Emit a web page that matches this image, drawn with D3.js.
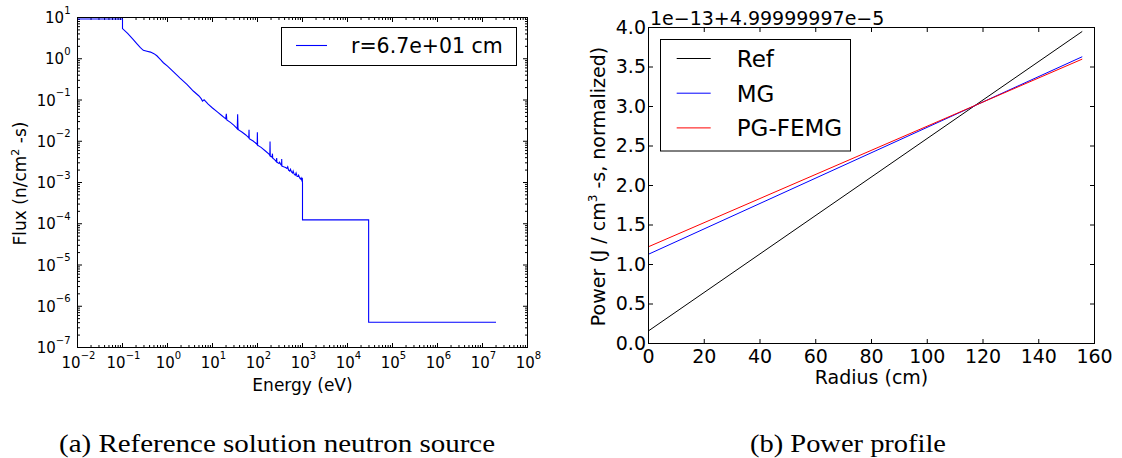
<!DOCTYPE html>
<html>
<head>
<meta charset="utf-8">
<script src="https://cdn.jsdelivr.net/npm/d3@7"></script>
<style>
  body { margin: 0; background: #fff; }
  svg { display: block; }
  text { font-family: "DejaVu Sans", sans-serif; fill: #000; }
  .cap { font-family: "Liberation Serif", "DejaVu Serif", serif; }
</style>
</head>
<body>
<svg id="fig" width="1122" height="458"></svg>
<script>
// ---- (a) neutron flux spectrum at r = 67 cm ----
const energy = [
  0.01, 0.1, 0.1, 0.13, 0.17, 0.21, 0.25, 0.29, 0.35, 0.42, 0.5, 0.58, 0.7, 0.81,
  1.0, 1.4, 1.9, 2.7, 3.74, 5.0, 5.6, 6.0, 6.5, 7.2, 8.0, 10, 13, 16, 19.6, 20.3, 20.8,
  25, 30, 34, 35.5, 36.2, 36.8, 37.5, 45, 55, 64, 64.8, 65.5, 80, 95, 98.5, 99.3, 100.5,
  120, 150, 180, 188, 190, 192, 200, 210, 215, 218, 240, 262, 267, 270, 300, 310, 330,
  343, 345, 348, 380, 420, 450, 470, 490, 520, 540, 570, 600, 620, 650, 690, 720, 760,
  800, 820, 860, 900, 930, 960, 990, 1000, 1000, 29500, 29500, 2e7
];
const flux = [
  9.2, 9.2, 5.4, 4.1, 3.0, 2.3, 1.85, 1.6, 1.52, 1.45, 1.33, 1.18, 0.95, 0.8,
  0.66, 0.47, 0.34, 0.24, 0.165, 0.125, 0.108, 0.094, 0.101, 0.090, 0.079, 0.064, 0.051, 0.042, 0.035, 0.046, 0.033,
  0.0286, 0.0243, 0.021, 0.020, 0.045, 0.022, 0.019, 0.0168, 0.0142, 0.0121, 0.019, 0.0115, 0.0101, 0.0087, 0.0082, 0.0165, 0.0080,
  0.0071, 0.0058, 0.0049, 0.0045, 0.0098, 0.0044, 0.0043, 0.0041, 0.0050, 0.0039, 0.0036, 0.0032, 0.0039, 0.0031, 0.0029, 0.0031, 0.0027,
  0.0026, 0.0037, 0.0025, 0.0024, 0.0023, 0.0022, 0.0024, 0.0020, 0.0019, 0.0021, 0.0018, 0.0017, 0.0019, 0.0016, 0.0015, 0.0017, 0.0014,
  0.0014, 0.0015, 0.0013, 0.00122, 0.0013, 0.00115, 0.0013, 0.00098, 0.000124, 0.000124, 4.1e-7, 4.1e-7
];
const energyExponents = d3.range(-2, 9);   // 10^-2 ... 10^8
const fluxExponents = d3.range(-7, 2);     // 10^-7 ... 10^1
const fluxLegend = "r=6.7e+01 cm";

// ---- (b) power profile ----
const radius = [0, 155.6];
const powerRef = [0.16, 3.95];
const powerMG = [1.13, 3.63];
const powerPG = [1.225, 3.60];
const radiusTicks = [0, 20, 40, 60, 80, 100, 120, 140, 160];
const powerTicks = [0, 0.5, 1.0, 1.5, 2.0, 2.5, 3.0, 3.5, 4.0];
const seriesNames = ["Ref", "MG", "PG-FEMG"];
const seriesColors = ["#000000", "#0000ff", "#ff0000"];
const powerOffset = "1e\u221213+4.99999997e\u22125";

const svg = d3.select("#fig");

// inward ticks on one side of a panel
function ticks(g, axisFn, scale, values, size, transform) {
  const a = axisFn(scale).tickValues(values).tickSize(-size).tickFormat("");
  if (a.offset) a.offset(0);
  const s = g.append("g").attr("transform", transform).call(a);
  s.select(".domain").remove();
  s.selectAll("text").remove();
  s.selectAll("line").attr("stroke", "#000").attr("stroke-width", 1);
  return s;
}

// ================= panel (a) =================
const A = { x0: 77.5, x1: 527.5, y0: 17.5, y1: 347.5 };
const gA = svg.append("g");
const xA = d3.scaleLog().domain([1e-2, 1e8]).range([A.x0, A.x1]);
const yA = d3.scaleLog().domain([1e-7, 1e1]).range([A.y1, A.y0]);

const xMaj = energyExponents.map(k => Math.pow(10, k));
const yMaj = fluxExponents.map(k => Math.pow(10, k));
const minorOf = exps => exps.slice(0, -1).flatMap(k => d3.range(2, 10).map(m => m * Math.pow(10, k)));
const xMin = minorOf(energyExponents);
const yMin = minorOf(fluxExponents);

ticks(gA, d3.axisBottom, xA, xMaj, 4.5, `translate(0,${A.y1})`);
ticks(gA, d3.axisBottom, xA, xMin, 2.5, `translate(0,${A.y1})`);
ticks(gA, d3.axisTop, xA, xMaj, 4.5, `translate(0,${A.y0})`);
ticks(gA, d3.axisTop, xA, xMin, 2.5, `translate(0,${A.y0})`);
ticks(gA, d3.axisLeft, yA, yMaj, 4.5, `translate(${A.x0},0)`);
ticks(gA, d3.axisLeft, yA, yMin, 2.5, `translate(${A.x0},0)`);
ticks(gA, d3.axisRight, yA, yMaj, 4.5, `translate(${A.x1},0)`);
ticks(gA, d3.axisRight, yA, yMin, 2.5, `translate(${A.x1},0)`);

// flux curve
const fluxPts = energy.map((e, i) => [e, flux[i]]);
gA.append("path")
  .attr("d", d3.line().x(d => xA(d[0])).y(d => yA(d[1]))(fluxPts))
  .attr("fill", "none").attr("stroke", "#0000ff").attr("stroke-width", 1.1)
  .attr("stroke-linejoin", "miter");

// power-of-ten labels
function powLabel(g, x, y, exp, anchor) {
  const t = g.append("text").attr("x", x).attr("y", y)
    .attr("text-anchor", anchor).style("font-size", "15px");
  t.append("tspan").text("10");
  t.append("tspan").attr("dy", -9.5).style("font-size", "10px")
    .text(exp < 0 ? "\u2212" + (-exp) : String(exp));
}
energyExponents.forEach(k => powLabel(gA, xA(Math.pow(10, k)) + 1, 368.3, k, "middle"));
fluxExponents.forEach(k => powLabel(gA, 70.5, yA(Math.pow(10, k)) + 5.7, k, "end"));

// frame
gA.append("rect").attr("x", A.x0).attr("y", A.y0)
  .attr("width", A.x1 - A.x0).attr("height", A.y1 - A.y0)
  .attr("fill", "none").attr("stroke", "#000").attr("stroke-width", 1);

// axis titles
gA.append("text").attr("x", (A.x0 + A.x1) / 2).attr("y", 391)
  .attr("text-anchor", "middle").style("font-size", "17px").text("Energy (eV)");
const fy = gA.append("text").attr("transform", "translate(26,183.5) rotate(-90)")
  .attr("text-anchor", "middle").style("font-size", "17px");
fy.append("tspan").text("Flux (n/cm");
fy.append("tspan").attr("dy", -7).style("font-size", "11px").text("2");
fy.append("tspan").attr("dy", 7).text(" -s)");

// legend
const lgA = gA.append("g");
lgA.append("rect").attr("x", 281.5).attr("y", 27.5).attr("width", 235).attr("height", 38)
  .attr("fill", "#fff").attr("stroke", "#000").attr("stroke-width", 1);
lgA.append("line").attr("x1", 296).attr("x2", 327).attr("y1", 45.5).attr("y2", 45.5)
  .attr("stroke", "#0000ff").attr("stroke-width", 1.1);
lgA.append("text").attr("x", 351).attr("y", 52.7).style("font-size", "20.5px").text(fluxLegend);

// caption
svg.append("text").attr("class", "cap").attr("x", 59).attr("y", 452)
  .attr("textLength", 436).attr("lengthAdjust", "spacingAndGlyphs")
  .style("font-size", "25px").text("(a) Reference solution neutron source");

// ================= panel (b) =================
const B = { x0: 648.5, x1: 1094.5, y0: 27.5, y1: 343.5 };
const gB = svg.append("g");
const xB = d3.scaleLinear().domain([0, 160]).range([B.x0, B.x1]);
const yB = d3.scaleLinear().domain([0, 4]).range([B.y1, B.y0]);

ticks(gB, d3.axisTop, xB, radiusTicks, 4.5, `translate(0,${B.y0})`);
ticks(gB, d3.axisRight, yB, powerTicks, 4.5, `translate(${B.x1},0)`);

const axB = d3.axisBottom(xB).tickValues(radiusTicks).tickSize(-4.5).tickPadding(6).tickFormat(d3.format("d"));
if (axB.offset) axB.offset(0);
const gxB = gB.append("g").attr("transform", `translate(0,${B.y1})`).call(axB);
gxB.select(".domain").remove();
gxB.selectAll("line").attr("stroke", "#000");
gxB.selectAll("text").style("font-size", "19px").style("font-family", "DejaVu Sans, sans-serif").attr("fill", "#000");

const ayB = d3.axisLeft(yB).tickValues(powerTicks).tickSize(-4.5).tickPadding(2.5).tickFormat(d3.format(".1f"));
if (ayB.offset) ayB.offset(0);
const gyB = gB.append("g").attr("transform", `translate(${B.x0},0)`).call(ayB);
gyB.select(".domain").remove();
gyB.selectAll("line").attr("stroke", "#000");
gyB.selectAll("text").style("font-size", "19px").style("font-family", "DejaVu Sans, sans-serif").attr("fill", "#000");

// power lines
const powerSeries = [powerRef, powerMG, powerPG];
const lineB = d3.line().x((d, i) => xB(radius[i])).y(d => yB(d));
powerSeries.forEach((s, k) => {
  gB.append("path").attr("d", lineB(s)).attr("fill", "none")
    .attr("stroke", seriesColors[k]).attr("stroke-width", 1);
});

// frame
gB.append("rect").attr("x", B.x0).attr("y", B.y0)
  .attr("width", B.x1 - B.x0).attr("height", B.y1 - B.y0)
  .attr("fill", "none").attr("stroke", "#000").attr("stroke-width", 1);

// offset text
gB.append("text").attr("x", 650).attr("y", 24.5).style("font-size", "19px").text(powerOffset);

// axis titles
gB.append("text").attr("x", (B.x0 + B.x1) / 2).attr("y", 384)
  .attr("text-anchor", "middle").style("font-size", "19px").text("Radius (cm)");
const py = gB.append("text").attr("transform", "translate(605,186.5) rotate(-90)")
  .attr("text-anchor", "middle").style("font-size", "19px");
py.append("tspan").text("Power (J / cm");
py.append("tspan").attr("dy", -8).style("font-size", "12px").text("3");
py.append("tspan").attr("dy", 8).text(" -s, normalized)");

// legend
const lgB = gB.append("g");
lgB.append("rect").attr("x", 660.5).attr("y", 39.5).attr("width", 190).attr("height", 111.5)
  .attr("fill", "#fff").attr("stroke", "#000").attr("stroke-width", 1);
seriesNames.forEach((name, k) => {
  const ly = 58.5 + k * 34.7;
  lgB.append("line").attr("x1", 676.7).attr("x2", 710.7).attr("y1", ly).attr("y2", ly)
    .attr("stroke", seriesColors[k]).attr("stroke-width", 1);
  lgB.append("text").attr("x", 736.7).attr("y", ly + 8.3).style("font-size", "23px").text(name);
});

// caption
svg.append("text").attr("class", "cap").attr("x", 750).attr("y", 452)
  .attr("textLength", 196).attr("lengthAdjust", "spacingAndGlyphs")
  .style("font-size", "25px").text("(b) Power profile");
</script>
</body>
</html>
